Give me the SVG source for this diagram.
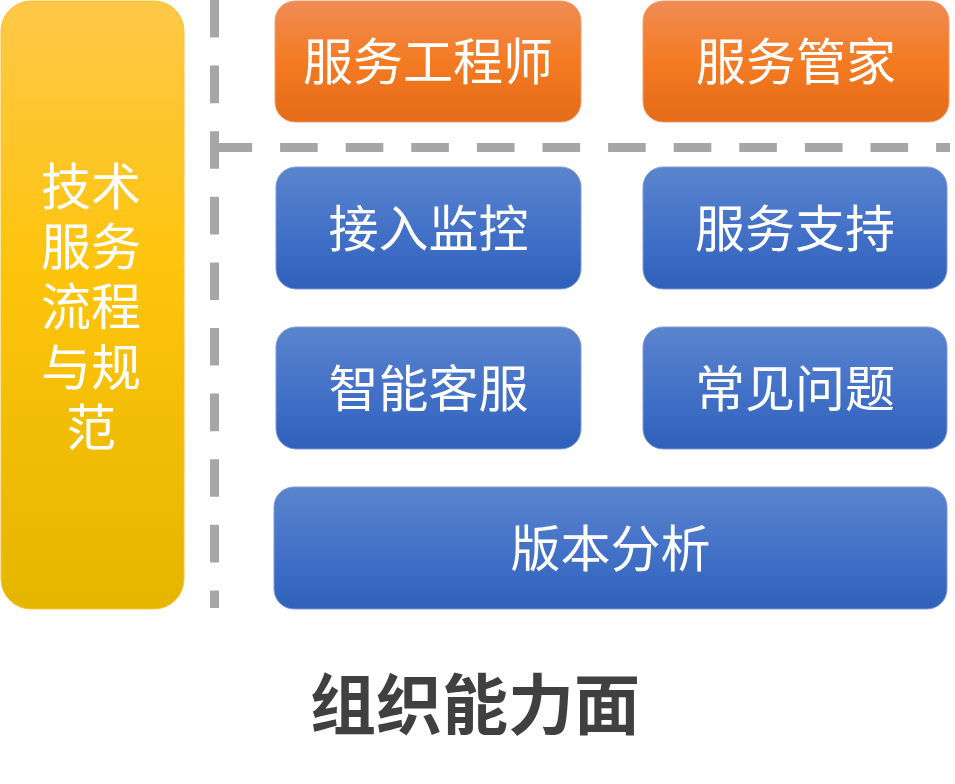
<svg xmlns="http://www.w3.org/2000/svg" width="955" height="784" viewBox="0 0 955 784">
<defs>
<linearGradient id="gy" x1="0" y1="0" x2="0" y2="1">
<stop offset="0" stop-color="#FDC848"/><stop offset="0.45" stop-color="#FEC40C"/><stop offset="1" stop-color="#E5B500"/>
</linearGradient>
<linearGradient id="go" x1="0" y1="0" x2="0" y2="1">
<stop offset="0" stop-color="#F08B55"/><stop offset="0.5" stop-color="#F47B22"/><stop offset="1" stop-color="#E46B18"/>
</linearGradient>
<linearGradient id="gb" x1="0" y1="0" x2="0" y2="1">
<stop offset="0" stop-color="#5B84CD"/><stop offset="0.5" stop-color="#4472C8"/><stop offset="1" stop-color="#2E61BB"/>
</linearGradient>
<style>
.t{font-family:"Noto Sans CJK SC","Noto Sans",sans-serif;font-size:50px;fill:#fff;text-anchor:middle}
.dash{stroke:#A6A6A6;stroke-width:9;stroke-dasharray:37.6 28;fill:none}
.o{fill:url(#go);stroke:#F0A070;stroke-width:1}
.b{fill:url(#gb);stroke:#7E9BD6;stroke-width:1}
</style>
</defs>
<rect width="955" height="784" fill="#fff"/>
<g id="connectors">
<line class="dash" x1="214.5" y1="0" x2="214.5" y2="608"/>
<line class="dash" x1="214.5" y1="147.5" x2="950" y2="147.5"/>
</g>
<g id="left">
<rect x="1" y="1" width="183" height="608" rx="30" fill="url(#gy)" stroke="#F7C43A" stroke-width="1"/>
<text class="t"><tspan x="91" y="205">技术</tspan><tspan x="91" y="265">服务</tspan><tspan x="91" y="325">流程</tspan><tspan x="91" y="386">与规</tspan><tspan x="91" y="446">范</tspan></text>
</g>
<g id="n1"><rect class="o" x="275" y="1" width="306" height="121" rx="20"/><text class="t" x="428" y="80">服务工程师</text></g>
<g id="n2"><rect class="o" x="643" y="1" width="306" height="121" rx="20"/><text class="t" x="796" y="80">服务管家</text></g>
<g id="n3"><rect class="b" x="276" y="167" width="305" height="122" rx="20"/><text class="t" x="428.5" y="247">接入监控</text></g>
<g id="n4"><rect class="b" x="643" y="167" width="304" height="122" rx="20"/><text class="t" x="795" y="247">服务支持</text></g>
<g id="n5"><rect class="b" x="276" y="327" width="305" height="122" rx="20"/><text class="t" x="428.5" y="407">智能客服</text></g>
<g id="n6"><rect class="b" x="643" y="327" width="304" height="122" rx="20"/><text class="t" x="795" y="407">常见问题</text></g>
<g id="n7"><rect class="b" x="274" y="487" width="673" height="122" rx="20"/><text class="t" x="610.5" y="567">版本分析</text></g>
<g id="title"><text x="475" y="729" font-family="'Noto Sans CJK SC','Noto Sans',sans-serif" font-size="66" font-weight="bold" fill="#404040" text-anchor="middle">组织能力面</text></g>
</svg>
